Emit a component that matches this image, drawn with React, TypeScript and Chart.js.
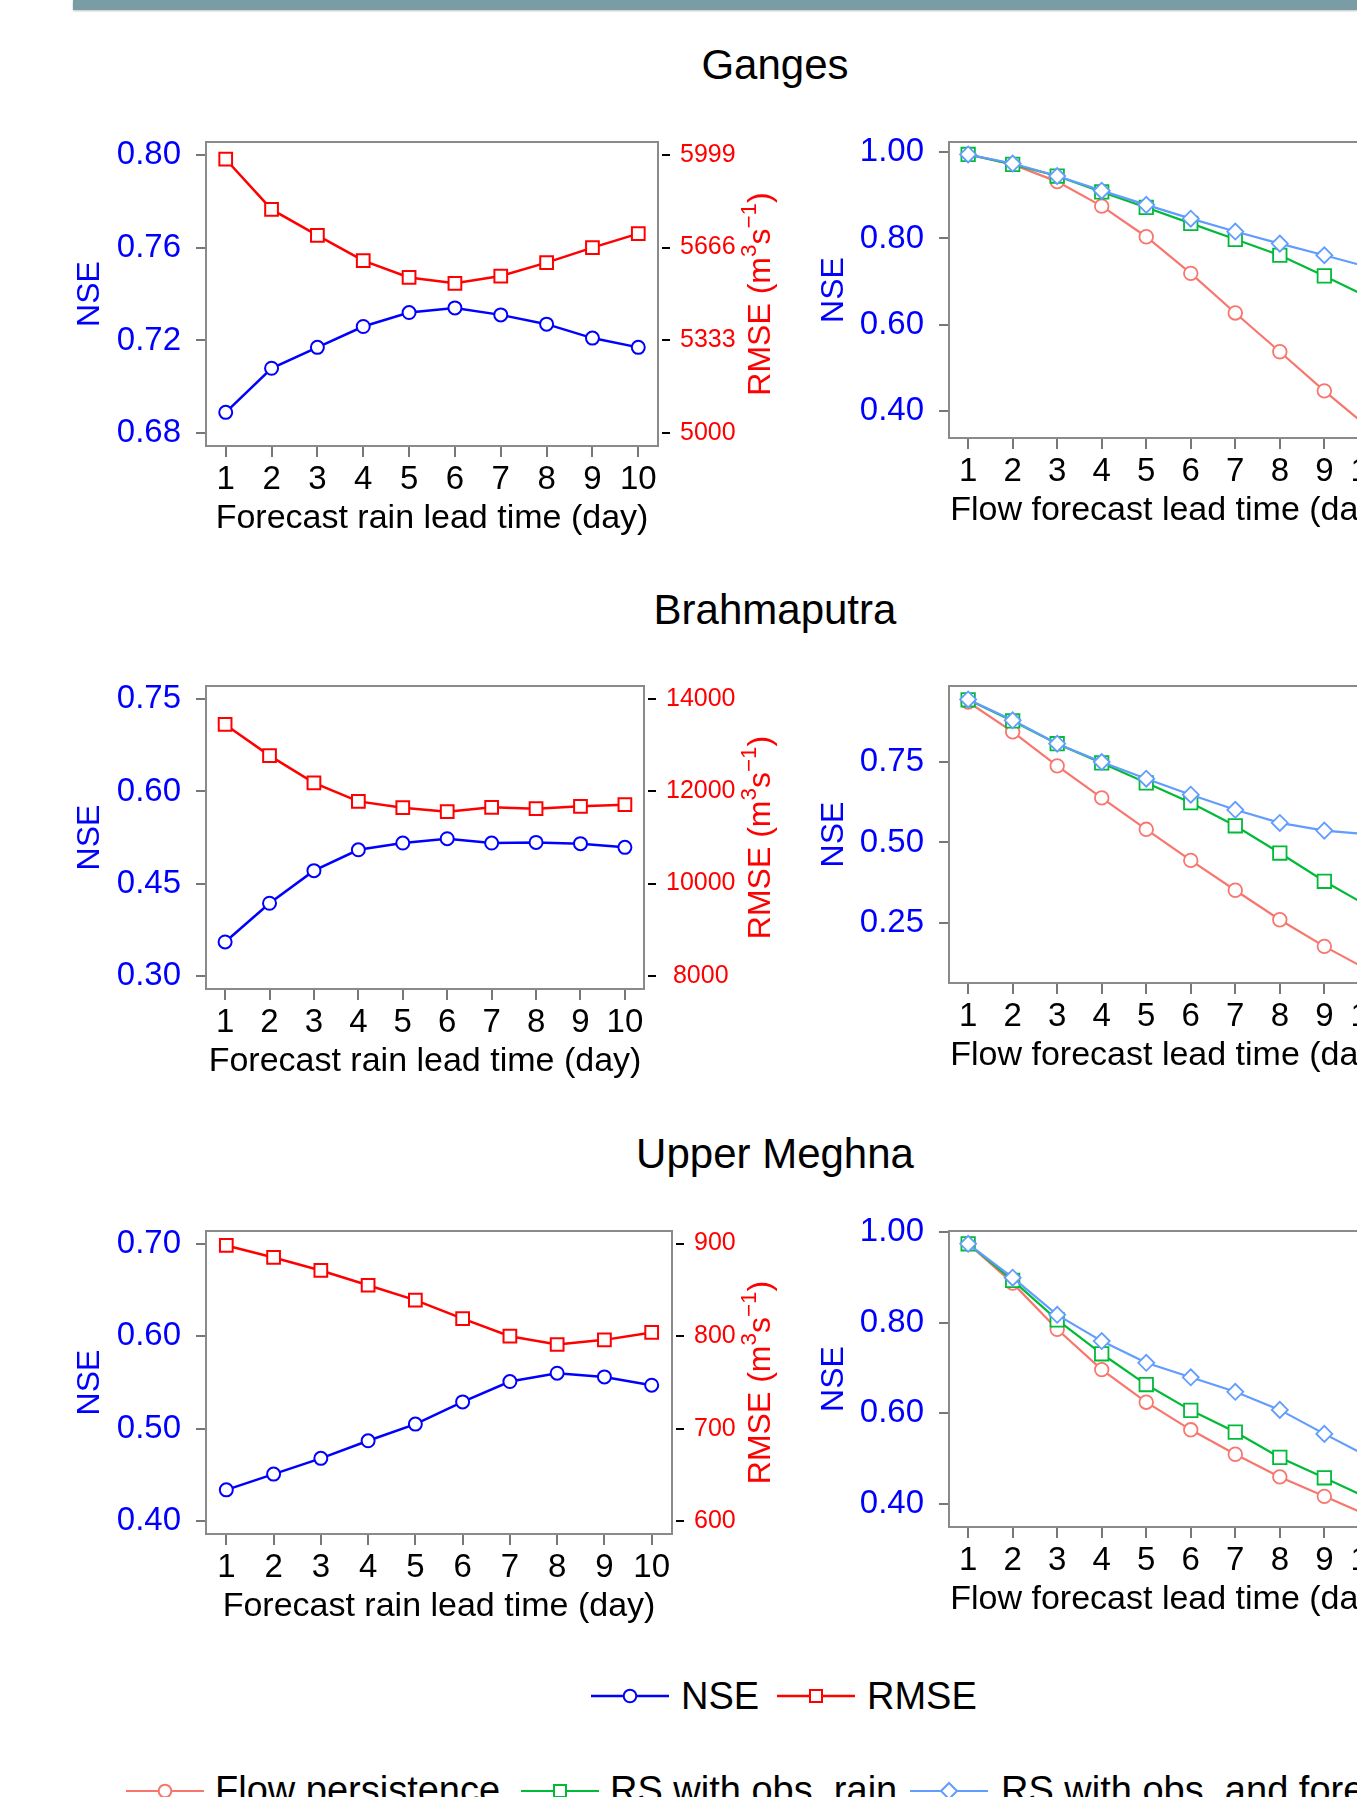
import React, { useEffect, useRef } from "react";
import { Chart, registerables } from "chart.js";

Chart.register(...registerables);

const FONT = "'Liberation Sans', Arial, Helvetica, sans-serif";

// ---------------- data ----------------
const leadDays = [1, 2, 3, 4, 5, 6, 7, 8, 9, 10];

// Left panels: NSE and RMSE vs forecast rain lead time
const gangesNSE = [0.689, 0.708, 0.717, 0.726, 0.732, 0.734, 0.731, 0.727, 0.721, 0.717];
const gangesRMSE = [5983, 5803, 5710, 5619, 5559, 5538, 5564, 5612, 5666, 5716];
const brahmaNSE = [0.355, 0.418, 0.471, 0.505, 0.516, 0.523, 0.516, 0.517, 0.515, 0.509];
const brahmaRMSE = [13453, 12777, 12187, 11784, 11647, 11561, 11655, 11626, 11676, 11712];
const meghnaNSE = [0.434, 0.451, 0.468, 0.487, 0.505, 0.529, 0.551, 0.56, 0.556, 0.547];
const meghnaRMSE = [898, 885, 871, 855, 839, 819, 800, 791, 796, 804];

// Right panels: NSE vs flow forecast lead time
const gangesPersist = [0.995, 0.972, 0.932, 0.875, 0.804, 0.719, 0.627, 0.537, 0.446, 0.36];
const gangesObsRain = [0.995, 0.972, 0.945, 0.908, 0.872, 0.835, 0.798, 0.761, 0.713, 0.663];
const gangesObsFore = [0.995, 0.974, 0.945, 0.911, 0.878, 0.846, 0.816, 0.788, 0.761, 0.733];
const brahmaPersist = [0.938, 0.845, 0.739, 0.639, 0.541, 0.444, 0.351, 0.259, 0.176, 0.101];
const brahmaObsRain = [0.945, 0.879, 0.808, 0.748, 0.686, 0.624, 0.552, 0.467, 0.379, 0.3];
const brahmaObsFore = [0.946, 0.881, 0.808, 0.751, 0.699, 0.649, 0.602, 0.561, 0.537, 0.525];
const meghnaPersist = [0.974, 0.887, 0.785, 0.696, 0.624, 0.563, 0.509, 0.459, 0.416, 0.373];
const meghnaObsRain = [0.974, 0.893, 0.806, 0.731, 0.663, 0.606, 0.558, 0.502, 0.457, 0.411];
const meghnaObsFore = [0.974, 0.899, 0.817, 0.759, 0.711, 0.679, 0.647, 0.607, 0.554, 0.503];

// tick labels
const gangesNseTicks = [0.68, 0.72, 0.76, 0.8];
const gangesRmseTicks = [5000, 5333, 5666, 5999];
const brahmaNseTicks = [0.3, 0.45, 0.6, 0.75];
const brahmaRmseTicks = [8000, 10000, 12000, 14000];
const meghnaNseTicks = [0.4, 0.5, 0.6, 0.7];
const meghnaRmseTicks = [600, 700, 800, 900];
const gangesFlowTicks = [0.4, 0.6, 0.8, 1.0];
const brahmaFlowTicks = [0.25, 0.5, 0.75];
const meghnaFlowTicks = [0.4, 0.6, 0.8, 1.0];

const basinNames = ["Ganges", "Brahmaputra", "Upper Meghna"];

// ---------------- styles ----------------
const BLUE = "#0000FF";
const RED = "#FF0000";
const C_PERSIST = "#F8766D";
const C_OBSRAIN = "#00BA38";
const C_OBSFORE = "#619CFF";
const BOX_GRAY = "#8a8a8a";
const TICK_GRAY = "#777777";

const X_MIN = 0.57;
const X_MAX = 10.43;

const toXY = (vals: number[]) => vals.map((v, i) => ({ x: leadDays[i], y: v }));

const boxPlugin = {
  id: "boxFrame",
  afterDatasetsDraw(chart: any) {
    const { ctx, chartArea: a } = chart;
    ctx.save();
    ctx.strokeStyle = BOX_GRAY;
    ctx.lineWidth = 2;
    ctx.strokeRect(a.left, a.top, a.right - a.left, a.bottom - a.top);
    ctx.restore();
  },
};

function rmseTitlePlugin(baselineX: number) {
  return {
    id: "rmseTitle",
    afterDraw(chart: any) {
      const { ctx, chartArea: a } = chart;
      const size = 32;
      const sup = size * 0.7;
      const raise = size * 0.45;
      const parts = [
        { t: "RMSE (m", s: false, w: 0 },
        { t: "3", s: true, w: 0 },
        { t: "s", s: false, w: 0 },
        { t: "\u22121", s: true, w: 0 },
        { t: ")", s: false, w: 0 },
      ];
      ctx.save();
      let total = 0;
      parts.forEach((p) => {
        ctx.font = `${p.s ? sup : size}px ${FONT}`;
        p.w = ctx.measureText(p.t).width;
        total += p.w;
      });
      ctx.translate(baselineX, (a.top + a.bottom) / 2);
      ctx.rotate(-Math.PI / 2);
      ctx.fillStyle = RED;
      ctx.textAlign = "left";
      ctx.textBaseline = "alphabetic";
      let x = -total / 2;
      parts.forEach((p) => {
        ctx.font = `${p.s ? sup : size}px ${FONT}`;
        ctx.fillText(p.t, x, p.s ? -raise : 0);
        x += p.w;
      });
      ctx.restore();
    },
  };
}

function xScale(title: string) {
  return {
    type: "linear",
    position: "bottom",
    min: X_MIN,
    max: X_MAX,
    afterBuildTicks: (s: any) => {
      s.ticks = leadDays.map((v) => ({ value: v }));
    },
    afterFit: (s: any) => {
      s.height = 100;
      s.paddingLeft = 0;
      s.paddingRight = 0;
    },
    ticks: {
      font: { family: FONT, size: 33 },
      color: "#000",
      padding: 3,
      autoSkip: false,
      maxRotation: 0,
      callback: (v: any) => String(v),
    },
    grid: { drawOnChartArea: false, tickLength: 11, color: TICK_GRAY, lineWidth: 2 },
    border: { display: false },
    title: {
      display: true,
      text: title,
      color: "#000",
      font: { family: FONT, size: 34 },
      padding: { top: 0, bottom: 7 },
    },
  };
}

function nseScale(min: number, max: number, ticks: number[], width: number, titlePad: number) {
  return {
    type: "linear",
    position: "left",
    min,
    max,
    afterBuildTicks: (s: any) => {
      s.ticks = ticks.map((v) => ({ value: v }));
    },
    afterFit: (s: any) => {
      s.width = width;
      s.paddingTop = 0;
      s.paddingBottom = 0;
    },
    ticks: {
      font: { family: FONT, size: 33 },
      color: BLUE,
      padding: 15,
      autoSkip: false,
      callback: (v: any) => Number(v).toFixed(2),
    },
    grid: { drawOnChartArea: false, tickLength: 10, color: TICK_GRAY, lineWidth: 2 },
    border: { display: false },
    title: {
      display: true,
      text: "NSE",
      color: BLUE,
      font: { family: FONT, size: 32 },
      padding: { top: titlePad, bottom: 0 },
    },
  };
}

const PAD_TOP = 30;
const PAD_BOTTOM = 10;
const X_AXIS_H = 100;
const LEFT_W = 800;
const RIGHT_LEFT = 780;
const RIGHT_W = 640;
const RIGHT_BOX_LEFT = 949;
const RIGHT_BOX_RIGHT = 1388;

function ChartCanvas(props: { left: number; top: number; width: number; height: number; build: () => any }) {
  const ref = useRef<HTMLCanvasElement>(null);
  useEffect(() => {
    const chart = new Chart(ref.current as HTMLCanvasElement, props.build());
    return () => chart.destroy();
  }, []);
  return (
    <canvas
      ref={ref}
      width={props.width}
      height={props.height}
      style={{ position: "absolute", left: props.left, top: props.top, width: props.width, height: props.height }}
    />
  );
}

function LeftPanel(p: {
  boxTop: number;
  boxBottom: number;
  boxRight: number;
  nse: number[];
  rmse: number[];
  nseTicks: number[];
  rmseTicks: number[];
  nseMin: number;
  nseMax: number;
}) {
  const height = PAD_TOP + (p.boxBottom - p.boxTop) + X_AXIS_H + PAD_BOTTOM;
  const n0 = p.nseTicks[0];
  const n1 = p.nseTicks[p.nseTicks.length - 1];
  const r0 = p.rmseTicks[0];
  const r1 = p.rmseTicks[p.rmseTicks.length - 1];
  const k = (r1 - r0) / (n1 - n0);
  const rMin = r0 + (p.nseMin - n0) * k;
  const rMax = r0 + (p.nseMax - n0) * k;
  const build = () => ({
    type: "line",
    data: {
      datasets: [
        {
          label: "NSE",
          data: toXY(p.nse),
          yAxisID: "y",
          borderColor: BLUE,
          backgroundColor: "#fff",
          borderWidth: 2.5,
          tension: 0,
          pointStyle: "circle",
          pointRadius: 6.5,
          pointBorderWidth: 2,
          pointBackgroundColor: "#fff",
          pointBorderColor: BLUE,
        },
        {
          label: "RMSE",
          data: toXY(p.rmse),
          yAxisID: "y2",
          borderColor: RED,
          backgroundColor: "#fff",
          borderWidth: 2.5,
          tension: 0,
          pointStyle: "rect",
          pointRadius: 9,
          pointBorderWidth: 2,
          pointBackgroundColor: "#fff",
          pointBorderColor: RED,
        },
      ],
    },
    options: {
      responsive: false,
      animation: false,
      devicePixelRatio: 1,
      layout: { padding: { top: PAD_TOP, bottom: PAD_BOTTOM, left: 0, right: 0 }, autoPadding: false },
      plugins: { legend: { display: false }, tooltip: { enabled: false } },
      scales: {
        x: xScale("Forecast rain lead time (day)"),
        y: nseScale(p.nseMin, p.nseMax, p.nseTicks, 206, 70.8),
        y2: {
          type: "linear",
          position: "right",
          min: rMin,
          max: rMax,
          afterBuildTicks: (s: any) => {
            s.ticks = p.rmseTicks.map((v) => ({ value: v }));
          },
          afterFit: (s: any) => {
            s.width = LEFT_W - p.boxRight;
            s.paddingTop = 0;
            s.paddingBottom = 0;
          },
          ticks: {
            font: { family: FONT, size: 25 },
            color: RED,
            padding: 10,
            crossAlign: "center",
            autoSkip: false,
            callback: (v: any) => String(Math.round(Number(v))),
          },
          grid: {
            drawOnChartArea: false,
            tickLength: 12,
            color: "#000",
            lineWidth: 2,
            tickBorderDash: [0, 4, 8, 100],
          },
          border: { display: false },
        },
      },
    },
    plugins: [boxPlugin, rmseTitlePlugin(770)],
  });
  return <ChartCanvas left={0} top={p.boxTop - PAD_TOP} width={LEFT_W} height={height} build={build} />;
}

function RightPanel(p: {
  boxTop: number;
  boxBottom: number;
  persist: number[];
  obsRain: number[];
  obsFore: number[];
  ticks: number[];
  yMin: number;
  yMax: number;
}) {
  const height = PAD_TOP + (p.boxBottom - p.boxTop) + X_AXIS_H + PAD_BOTTOM;
  const ds = (label: string, vals: number[], color: string, style: string, radius: number, order: number) => ({
    label,
    data: toXY(vals),
    yAxisID: "y",
    borderColor: color,
    backgroundColor: "#fff",
    borderWidth: 2.2,
    tension: 0,
    pointStyle: style,
    pointRadius: radius,
    pointBorderWidth: 1.8,
    pointBackgroundColor: "#fff",
    pointBorderColor: color,
    order,
  });
  const build = () => ({
    type: "line",
    data: {
      datasets: [
        ds("Flow persistence", p.persist, C_PERSIST, "circle", 6.8, 2),
        ds("RS with obs. rain", p.obsRain, C_OBSRAIN, "rect", 9.5, 1),
        ds("RS with obs. and forecast rain", p.obsFore, C_OBSFORE, "rectRot", 8, 0),
      ],
    },
    options: {
      responsive: false,
      animation: false,
      devicePixelRatio: 1,
      layout: {
        padding: { top: PAD_TOP, bottom: PAD_BOTTOM, left: 0, right: RIGHT_LEFT + RIGHT_W - RIGHT_BOX_RIGHT },
        autoPadding: false,
      },
      plugins: { legend: { display: false }, tooltip: { enabled: false } },
      scales: {
        x: xScale("Flow forecast lead time (day)"),
        y: nseScale(p.yMin, p.yMax, p.ticks, RIGHT_BOX_LEFT - RIGHT_LEFT, 34.5),
      },
    },
    plugins: [boxPlugin],
  });
  return <ChartCanvas left={RIGHT_LEFT} top={p.boxTop - PAD_TOP} width={RIGHT_W} height={height} build={build} />;
}

function LegendSymbol(p: { left: number; cy: number; color: string; shape: string; lw: number }) {
  const w = 78;
  const h = 24;
  const c = w / 2;
  const m = h / 2;
  let marker: any = null;
  if (p.shape === "circle") marker = <circle cx={c} cy={m} r={6.3} fill="#fff" stroke={p.color} strokeWidth={2} />;
  else if (p.shape === "square")
    marker = <rect x={c - 6} y={m - 6} width={12} height={12} fill="#fff" stroke={p.color} strokeWidth={2} />;
  else
    marker = (
      <polygon
        points={`${c - 8},${m} ${c},${m - 8} ${c + 8},${m} ${c},${m + 8}`}
        fill="#fff"
        stroke={p.color}
        strokeWidth={2}
      />
    );
  return (
    <svg width={w} height={h} style={{ position: "absolute", left: p.left, top: p.cy - h / 2 }}>
      <line x1={0} y1={m} x2={w} y2={m} stroke={p.color} strokeWidth={p.lw} />
      {marker}
    </svg>
  );
}

function LegendText(p: { left: number; cy: number; text: string }) {
  const size = 38;
  return (
    <div
      style={{
        position: "absolute",
        left: p.left,
        top: p.cy - size * 0.488,
        fontFamily: FONT,
        fontSize: size,
        lineHeight: `${size}px`,
        whiteSpace: "nowrap",
        color: "#000",
      }}
    >
      {p.text}
    </div>
  );
}

function BasinTitle(p: { cy: number; text: string }) {
  const size = 42;
  return (
    <div
      style={{
        position: "absolute",
        left: 0,
        width: 1550,
        textAlign: "center",
        top: p.cy - size * 0.488,
        fontFamily: FONT,
        fontSize: size,
        lineHeight: `${size}px`,
        color: "#000",
        whiteSpace: "nowrap",
      }}
    >
      {p.text}
    </div>
  );
}

export default function App() {
  return (
    <div
      style={{
        position: "absolute",
        left: 0,
        top: 0,
        width: 1357,
        height: 1797,
        overflow: "hidden",
        background: "#fff",
      }}
    >
      <div
        style={{
          position: "absolute",
          left: 73,
          top: 0,
          width: 1357 - 73,
          height: 10,
          background: "#7a9ca4",
          boxShadow: "0 1px 2px rgba(0,0,0,0.25)",
        }}
      />

      <BasinTitle cy={64} text={basinNames[0]} />
      <BasinTitle cy={609} text={basinNames[1]} />
      <BasinTitle cy={1153} text={basinNames[2]} />

      <LeftPanel
        boxTop={142}
        boxBottom={446}
        boxRight={658}
        nse={gangesNSE}
        rmse={gangesRMSE}
        nseTicks={gangesNseTicks}
        rmseTicks={gangesRmseTicks}
        nseMin={0.6745}
        nseMax={0.8055}
      />
      <RightPanel
        boxTop={142}
        boxBottom={438}
        persist={gangesPersist}
        obsRain={gangesObsRain}
        obsFore={gangesObsFore}
        ticks={gangesFlowTicks}
        yMin={0.3366}
        yMax={1.024}
      />

      <LeftPanel
        boxTop={686}
        boxBottom={989}
        boxRight={644}
        nse={brahmaNSE}
        rmse={brahmaRMSE}
        nseTicks={brahmaNseTicks}
        rmseTicks={brahmaRmseTicks}
        nseMin={0.2784}
        nseMax={0.7716}
      />
      <RightPanel
        boxTop={686}
        boxBottom={983}
        persist={brahmaPersist}
        obsRain={brahmaObsRain}
        obsFore={brahmaObsFore}
        ticks={brahmaFlowTicks}
        yMin={0.0617}
        yMax={0.988}
      />

      <LeftPanel
        boxTop={1231}
        boxBottom={1534}
        boxRight={672}
        nse={meghnaNSE}
        rmse={meghnaRMSE}
        nseTicks={meghnaNseTicks}
        rmseTicks={meghnaRmseTicks}
        nseMin={0.3863}
        nseMax={0.7136}
      />
      <RightPanel
        boxTop={1231}
        boxBottom={1527}
        persist={meghnaPersist}
        obsRain={meghnaObsRain}
        obsFore={meghnaObsFore}
        ticks={meghnaFlowTicks}
        yMin={0.3483}
        yMax={1.0022}
      />

      {/* legend: NSE / RMSE */}
      <LegendSymbol left={591} cy={1696} color={BLUE} shape="circle" lw={2.5} />
      <LegendText left={681} cy={1696} text="NSE" />
      <LegendSymbol left={777} cy={1696} color={RED} shape="square" lw={2.5} />
      <LegendText left={867} cy={1696} text="RMSE" />

      {/* legend: flow forecast methods */}
      <LegendSymbol left={126} cy={1791} color={C_PERSIST} shape="circle" lw={2.2} />
      <LegendText left={215} cy={1790} text="Flow persistence" />
      <LegendSymbol left={521} cy={1791} color={C_OBSRAIN} shape="square" lw={2.2} />
      <LegendText left={610} cy={1790} text="RS with obs. rain" />
      <LegendSymbol left={910} cy={1791} color={C_OBSFORE} shape="diamond" lw={2.2} />
      <LegendText left={1001} cy={1790} text="RS with obs. and forecast rain" />
    </div>
  );
}
